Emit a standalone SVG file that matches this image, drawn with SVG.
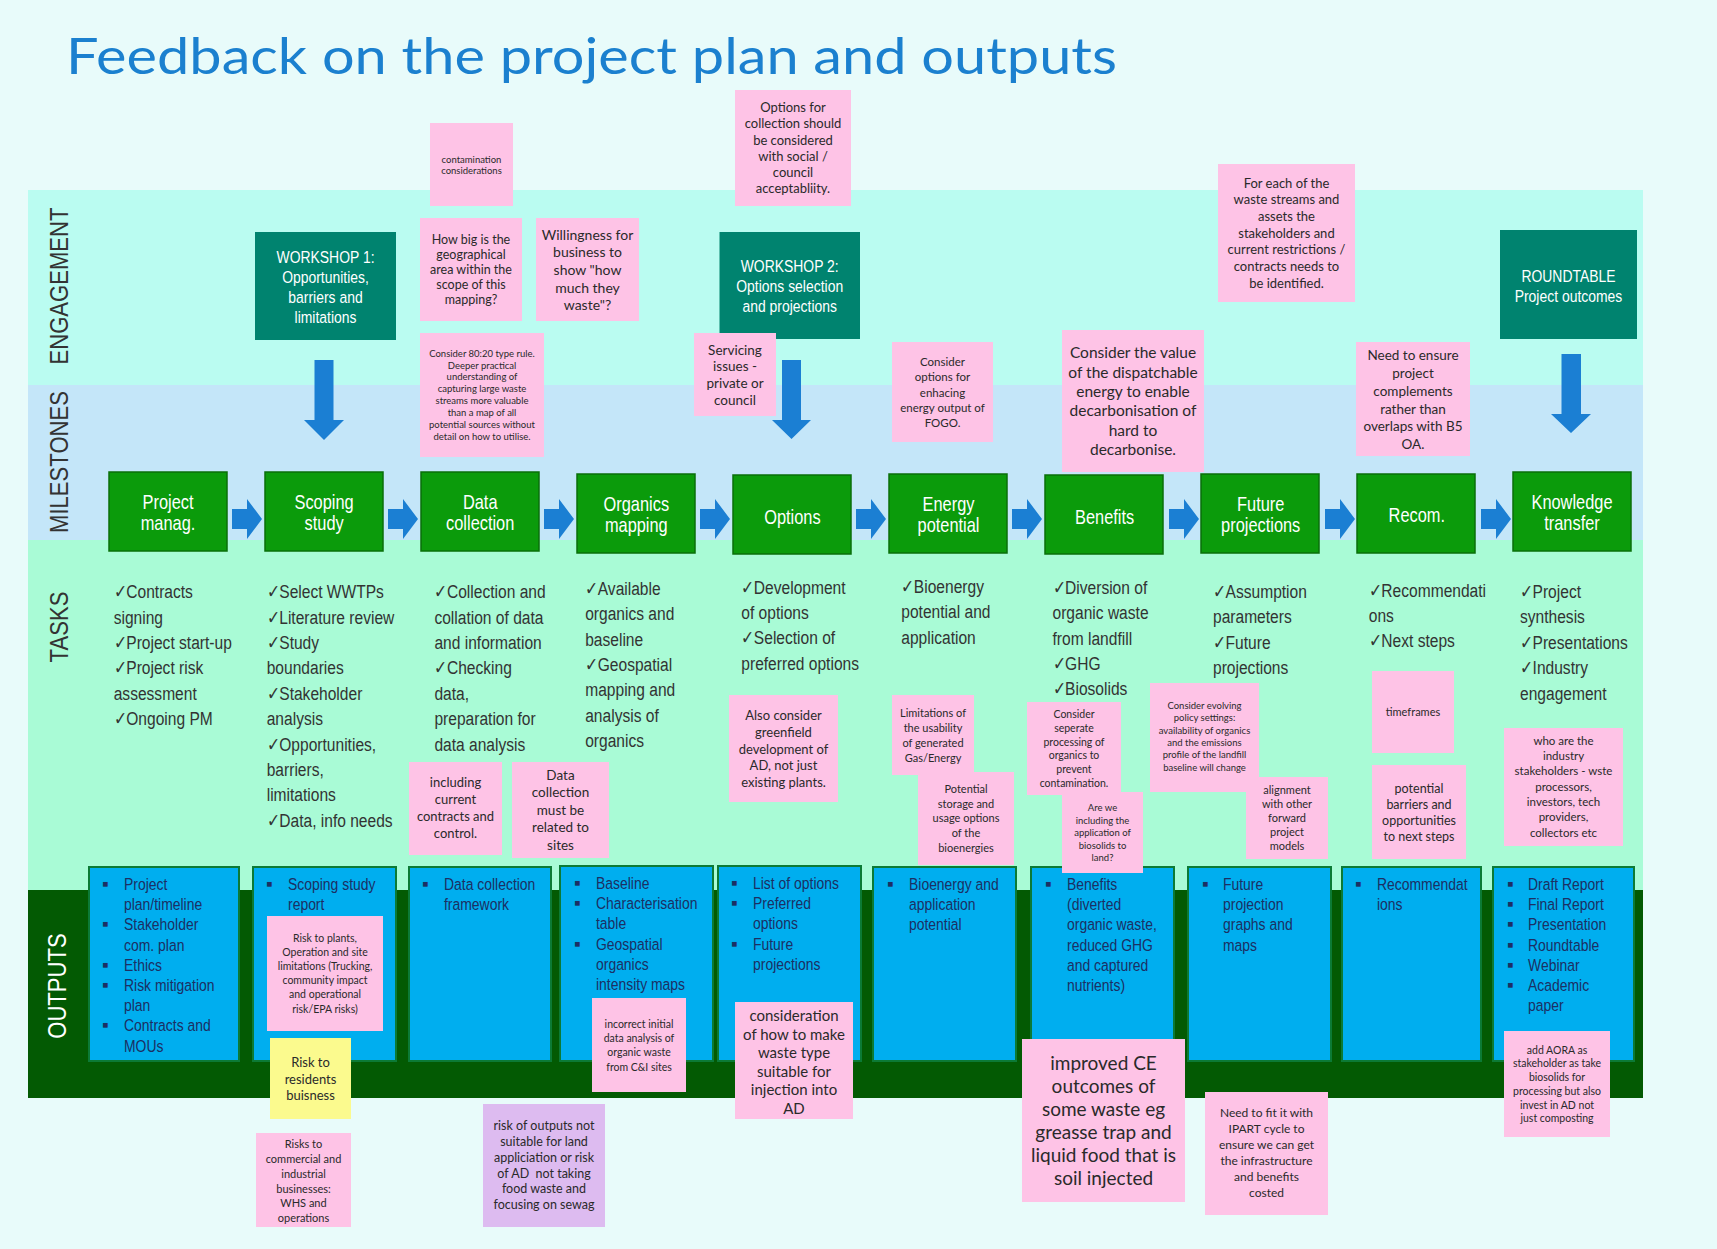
<svg xmlns="http://www.w3.org/2000/svg" width="1717" height="1249" viewBox="0 0 1717 1249">
<style>
.st{font-family:Lato,"Liberation Sans",sans-serif;fill:#2a2a2a;text-anchor:middle}
.pink{fill:#FEC3E6}
.yel{fill:#FBFA8E}
.pur{fill:#DDBBF0}
.nar{font-family:"Liberation Sans",Arial,sans-serif}
.ms{fill:#0B9B0B;stroke:#0A6F0A;stroke-width:1.5}
.mst{fill:#fff;font-size:20px;text-anchor:middle}
.ws{fill:#00836F}
.wst{fill:#fff;font-size:17px;text-anchor:middle}
.arr{fill:#1B7FD3}
.ob{fill:#00AEEF;stroke:#0C7A35;stroke-width:2}
.ot{fill:#1C2F63;font-size:17px}
.bul{fill:#1C2F63;font-size:19px;font-family:"Liberation Sans",sans-serif}
.tt{fill:#333;font-size:19px}
.lane{font-size:26px;text-anchor:middle;fill:#333}
</style>
<rect width="1717" height="1249" fill="#E8FBFA"/>
<text x="66" y="74" font-family="Lato,'Open Sans',sans-serif" font-weight="400" font-size="50" fill="#1B80CF" textLength="1051" lengthAdjust="spacingAndGlyphs">Feedback on the project plan and outputs</text>

<g id="lanes">
<rect x="28" y="190" width="1615" height="195" fill="#BAFCF1"/>
<rect x="28" y="385" width="1615" height="155" fill="#C4E6F9"/>
<rect x="28" y="540" width="1615" height="350" fill="#A9FBD6"/>
<rect x="28" y="890" width="1615" height="208" fill="#035A03"/>
<text class="nar lane" transform="translate(68,286) rotate(-90) scale(0.85,1)">ENGAGEMENT</text>
<text class="nar lane" transform="translate(68,462) rotate(-90) scale(0.85,1)">MILESTONES</text>
<text class="nar lane" transform="translate(68,627) rotate(-90) scale(0.85,1)">TASKS</text>
<text class="nar lane" style="fill:#fff" transform="translate(66,986) rotate(-90) scale(0.85,1)">OUTPUTS</text>
</g>

<g id="connectors">
<polygon class="arr" points="232,509 247,509 247,499 262,519 247,539 247,529 232,529"/>
<polygon class="arr" points="388,509 403,509 403,499 418,519 403,539 403,529 388,529"/>
<polygon class="arr" points="544,509 559,509 559,499 574,519 559,539 559,529 544,529"/>
<polygon class="arr" points="700,509 715,509 715,499 730,519 715,539 715,529 700,529"/>
<polygon class="arr" points="856,509 871,509 871,499 886,519 871,539 871,529 856,529"/>
<polygon class="arr" points="1012,509 1027,509 1027,499 1042,519 1027,539 1027,529 1012,529"/>
<polygon class="arr" points="1169,509 1184,509 1184,499 1199,519 1184,539 1184,529 1169,529"/>
<polygon class="arr" points="1325,509 1340,509 1340,499 1355,519 1340,539 1340,529 1325,529"/>
<polygon class="arr" points="1481,509 1496,509 1496,499 1511,519 1496,539 1496,529 1481,529"/>
<polygon class="arr" points="314.5,360 333.5,360 333.5,420 344,420 324,440 304,420 314.5,420"/>
<polygon class="arr" points="782,360 801,360 801,420 811,420 791.5,439 772,420 782,420"/>
<polygon class="arr" points="1561.5,354 1581,354 1581,414 1591,414 1571,433 1551,414 1561.5,414"/>
</g>

<g id="workshop1"><rect class="ws" x="255" y="232" width="141" height="108"/>
<text class="nar wst" transform="translate(325.5,262.7) scale(0.82,1)"><tspan x="0">WORKSHOP 1:</tspan><tspan x="0" dy="20.1">Opportunities,</tspan><tspan x="0" dy="20.1">barriers and</tspan><tspan x="0" dy="20.1">limitations</tspan></text></g>
<g id="workshop2"><rect class="ws" x="719.5" y="232" width="140.5" height="107"/>
<text class="nar wst" transform="translate(789.7,271.7) scale(0.82,1)"><tspan x="0">WORKSHOP 2:</tspan><tspan x="0" dy="20.1">Options selection</tspan><tspan x="0" dy="20.1">and projections</tspan></text></g>
<g id="roundtable"><rect class="ws" x="1500" y="230" width="137" height="109"/>
<text class="nar wst" transform="translate(1568.5,282) scale(0.82,1)"><tspan x="0">ROUNDTABLE</tspan><tspan x="0" dy="20.1">Project outcomes</tspan></text></g>

<g id="m1"><rect class="ms" x="109" y="472" width="118" height="79"/>
<text class="nar mst" transform="translate(168,508.5) scale(0.82,1)"><tspan x="0">Project</tspan><tspan x="0" dy="22">manag.</tspan></text></g>
<g id="m2"><rect class="ms" x="265" y="472" width="118" height="79"/>
<text class="nar mst" transform="translate(324.1,508.5) scale(0.82,1)"><tspan x="0">Scoping</tspan><tspan x="0" dy="22">study</tspan></text></g>
<g id="m3"><rect class="ms" x="421" y="472" width="118" height="79"/>
<text class="nar mst" transform="translate(480.2,508.5) scale(0.82,1)"><tspan x="0">Data</tspan><tspan x="0" dy="22">collection</tspan></text></g>
<g id="m4"><rect class="ms" x="577" y="474" width="118" height="79"/>
<text class="nar mst" transform="translate(636.3,510.5) scale(0.82,1)"><tspan x="0">Organics</tspan><tspan x="0" dy="22">mapping</tspan></text></g>
<g id="m5"><rect class="ms" x="733" y="475" width="118" height="79"/>
<text class="nar mst" transform="translate(792.4,523.5) scale(0.82,1)">Options</text></g>
<g id="m6"><rect class="ms" x="889" y="474" width="118" height="79"/>
<text class="nar mst" transform="translate(948.5,510.5) scale(0.82,1)"><tspan x="0">Energy</tspan><tspan x="0" dy="22">potential</tspan></text></g>
<g id="m7"><rect class="ms" x="1045" y="475" width="118" height="79"/>
<text class="nar mst" transform="translate(1104.6,523.5) scale(0.82,1)">Benefits</text></g>
<g id="m8"><rect class="ms" x="1201" y="474" width="118" height="79"/>
<text class="nar mst" transform="translate(1260.7,510.5) scale(0.82,1)"><tspan x="0">Future</tspan><tspan x="0" dy="22">projections</tspan></text></g>
<g id="m9"><rect class="ms" x="1357" y="474" width="118" height="79"/>
<text class="nar mst" transform="translate(1416.8,522) scale(0.82,1)">Recom.</text></g>
<g id="m10"><rect class="ms" x="1513" y="472" width="118" height="79"/>
<text class="nar mst" transform="translate(1572,508.5) scale(0.82,1)"><tspan x="0">Knowledge</tspan><tspan x="0" dy="22">transfer</tspan></text></g>

<g id="tasks">
<text class="nar tt" transform="translate(113.7,598.2) scale(0.82,1)"><tspan x="0">✓Contracts</tspan><tspan x="0" dy="25.4">signing</tspan><tspan x="0" dy="25.4">✓Project start-up</tspan><tspan x="0" dy="25.4">✓Project risk</tspan><tspan x="0" dy="25.4">assessment</tspan><tspan x="0" dy="25.4">✓Ongoing PM</tspan></text>
<text class="nar tt" transform="translate(266.7,598.2) scale(0.82,1)"><tspan x="0">✓Select WWTPs</tspan><tspan x="0" dy="25.4">✓Literature review</tspan><tspan x="0" dy="25.4">✓Study</tspan><tspan x="0" dy="25.4">boundaries</tspan><tspan x="0" dy="25.4">✓Stakeholder</tspan><tspan x="0" dy="25.4">analysis</tspan><tspan x="0" dy="25.4">✓Opportunities,</tspan><tspan x="0" dy="25.4">barriers,</tspan><tspan x="0" dy="25.4">limitations</tspan><tspan x="0" dy="25.4">✓Data, info needs</tspan></text>
<text class="nar tt" transform="translate(434.4,598.2) scale(0.82,1)"><tspan x="0">✓Collection and</tspan><tspan x="0" dy="25.4">collation of data</tspan><tspan x="0" dy="25.4">and information</tspan><tspan x="0" dy="25.4">✓Checking</tspan><tspan x="0" dy="25.4">data,</tspan><tspan x="0" dy="25.4">preparation for</tspan><tspan x="0" dy="25.4">data analysis</tspan></text>
<text class="nar tt" transform="translate(585.2,594.8) scale(0.82,1)"><tspan x="0">✓Available</tspan><tspan x="0" dy="25.4">organics and</tspan><tspan x="0" dy="25.4">baseline</tspan><tspan x="0" dy="25.4">✓Geospatial</tspan><tspan x="0" dy="25.4">mapping and</tspan><tspan x="0" dy="25.4">analysis of</tspan><tspan x="0" dy="25.4">organics</tspan></text>
<text class="nar tt" transform="translate(741.3,593.5) scale(0.82,1)"><tspan x="0">✓Development</tspan><tspan x="0" dy="25.4">of options</tspan><tspan x="0" dy="25.4">✓Selection of</tspan><tspan x="0" dy="25.4">preferred options</tspan></text>
<text class="nar tt" transform="translate(901.3,593) scale(0.82,1)"><tspan x="0">✓Bioenergy</tspan><tspan x="0" dy="25.4">potential and</tspan><tspan x="0" dy="25.4">application</tspan></text>
<text class="nar tt" transform="translate(1052.5,593.8) scale(0.82,1)"><tspan x="0">✓Diversion of</tspan><tspan x="0" dy="25.4">organic waste</tspan><tspan x="0" dy="25.4">from landfill</tspan><tspan x="0" dy="25.4">✓GHG</tspan><tspan x="0" dy="25.4">✓Biosolids</tspan></text>
<text class="nar tt" transform="translate(1213,598) scale(0.82,1)"><tspan x="0">✓Assumption</tspan><tspan x="0" dy="25.4">parameters</tspan><tspan x="0" dy="25.4">✓Future</tspan><tspan x="0" dy="25.4">projections</tspan></text>
<text class="nar tt" transform="translate(1368.8,596.5) scale(0.82,1)"><tspan x="0">✓Recommendati</tspan><tspan x="0" dy="25.4">ons</tspan><tspan x="0" dy="25.4">✓Next steps</tspan></text>
<text class="nar tt" transform="translate(1520,598) scale(0.82,1)"><tspan x="0">✓Project</tspan><tspan x="0" dy="25.4">synthesis</tspan><tspan x="0" dy="25.4">✓Presentations</tspan><tspan x="0" dy="25.4">✓Industry</tspan><tspan x="0" dy="25.4">engagement</tspan></text>
</g>

<g id="o1"><rect class="ob" x="89" y="867" width="150" height="194"/>
<text class="bul"><tspan x="102" y="890">▪</tspan><tspan x="102" y="930.4">▪</tspan><tspan x="102" y="970.8">▪</tspan><tspan x="102" y="991">▪</tspan><tspan x="102" y="1031.4">▪</tspan></text>
<text class="nar ot" transform="translate(124,890) scale(0.82,1)"><tspan x="0">Project</tspan><tspan x="0" dy="20.2">plan/timeline</tspan><tspan x="0" dy="20.2">Stakeholder</tspan><tspan x="0" dy="20.2">com. plan</tspan><tspan x="0" dy="20.2">Ethics</tspan><tspan x="0" dy="20.2">Risk mitigation</tspan><tspan x="0" dy="20.2">plan</tspan><tspan x="0" dy="20.2">Contracts and</tspan><tspan x="0" dy="20.2">MOUs</tspan></text></g>
<g id="o2"><rect class="ob" x="253" y="867" width="143" height="194"/>
<text class="bul" x="266" y="890">▪</text>
<text class="nar ot" transform="translate(288,890) scale(0.82,1)"><tspan x="0">Scoping study</tspan><tspan x="0" dy="20.2">report</tspan></text></g>
<g id="o3"><rect class="ob" x="409" y="867" width="142" height="194"/>
<text class="bul" x="422" y="890">▪</text>
<text class="nar ot" transform="translate(444,890) scale(0.82,1)"><tspan x="0">Data collection</tspan><tspan x="0" dy="20.2">framework</tspan></text></g>
<g id="o4"><rect class="ob" x="560" y="866" width="153" height="195"/>
<text class="bul"><tspan x="574" y="889">▪</tspan><tspan x="574" y="909.2">▪</tspan><tspan x="574" y="949.6">▪</tspan></text>
<text class="nar ot" transform="translate(596,889) scale(0.82,1)"><tspan x="0">Baseline</tspan><tspan x="0" dy="20.2">Characterisation</tspan><tspan x="0" dy="20.2">table</tspan><tspan x="0" dy="20.2">Geospatial</tspan><tspan x="0" dy="20.2">organics</tspan><tspan x="0" dy="20.2">intensity maps</tspan></text></g>
<g id="o5"><rect class="ob" x="718" y="866" width="143" height="195"/>
<text class="bul"><tspan x="731" y="889">▪</tspan><tspan x="731" y="909.2">▪</tspan><tspan x="731" y="949.6">▪</tspan></text>
<text class="nar ot" transform="translate(753,889) scale(0.82,1)"><tspan x="0">List of options</tspan><tspan x="0" dy="20.2">Preferred</tspan><tspan x="0" dy="20.2">options</tspan><tspan x="0" dy="20.2">Future</tspan><tspan x="0" dy="20.2">projections</tspan></text></g>
<g id="o6"><rect class="ob" x="873" y="867" width="143" height="194"/>
<text class="bul" x="887" y="890">▪</text>
<text class="nar ot" transform="translate(909,890) scale(0.82,1)"><tspan x="0">Bioenergy and</tspan><tspan x="0" dy="20.2">application</tspan><tspan x="0" dy="20.2">potential</tspan></text></g>
<g id="o7"><rect class="ob" x="1031" y="867" width="143" height="194"/>
<text class="bul" x="1045" y="890">▪</text>
<text class="nar ot" transform="translate(1067,890) scale(0.82,1)"><tspan x="0">Benefits</tspan><tspan x="0" dy="20.2">(diverted</tspan><tspan x="0" dy="20.2">organic waste,</tspan><tspan x="0" dy="20.2">reduced GHG</tspan><tspan x="0" dy="20.2">and captured</tspan><tspan x="0" dy="20.2">nutrients)</tspan></text></g>
<g id="o8"><rect class="ob" x="1188" y="867" width="143" height="194"/>
<text class="bul" x="1202" y="890">▪</text>
<text class="nar ot" transform="translate(1223,890) scale(0.82,1)"><tspan x="0">Future</tspan><tspan x="0" dy="20.2">projection</tspan><tspan x="0" dy="20.2">graphs and</tspan><tspan x="0" dy="20.2">maps</tspan></text></g>
<g id="o9"><rect class="ob" x="1342" y="867" width="139" height="194"/>
<text class="bul" x="1355" y="890">▪</text>
<text class="nar ot" transform="translate(1377,890) scale(0.82,1)"><tspan x="0">Recommendat</tspan><tspan x="0" dy="20.2">ions</tspan></text></g>
<g id="o10"><rect class="ob" x="1493" y="867" width="141" height="194"/>
<text class="bul"><tspan x="1507" y="890">▪</tspan><tspan x="1507" y="910.2">▪</tspan><tspan x="1507" y="930.4">▪</tspan><tspan x="1507" y="950.6">▪</tspan><tspan x="1507" y="970.8">▪</tspan><tspan x="1507" y="991">▪</tspan></text>
<text class="nar ot" transform="translate(1528,890) scale(0.82,1)"><tspan x="0">Draft Report</tspan><tspan x="0" dy="20.2">Final Report</tspan><tspan x="0" dy="20.2">Presentation</tspan><tspan x="0" dy="20.2">Roundtable</tspan><tspan x="0" dy="20.2">Webinar</tspan><tspan x="0" dy="20.2">Academic</tspan><tspan x="0" dy="20.2">paper</tspan></text></g>

<g id="s1"><rect class="pink" x="430" y="123" width="83" height="83"/><text class="st" font-size="9.5" y="162.5"><tspan x="471.5">contamination</tspan><tspan x="471.5" dy="11.7">considerations</tspan></text></g>
<g id="s2"><rect class="pink" x="420" y="218" width="102" height="103"/><text class="st" font-size="12.5" y="244.4"><tspan x="471">How big is the</tspan><tspan x="471" dy="15">geographical</tspan><tspan x="471" dy="15">area within the</tspan><tspan x="471" dy="15">scope of this</tspan><tspan x="471" dy="15">mapping?</tspan></text></g>
<g id="s3"><rect class="pink" x="536" y="218" width="103" height="103"/><text class="st" font-size="14" y="239.7"><tspan x="587.5">Willingness for</tspan><tspan x="587.5" dy="17.6">business to</tspan><tspan x="587.5" dy="17.6">show "how</tspan><tspan x="587.5" dy="17.6">much they</tspan><tspan x="587.5" dy="17.6">waste"?</tspan></text></g>
<g id="s4"><rect class="pink" x="420" y="333" width="124" height="124"/><text class="st" font-size="9.5" y="356.6"><tspan x="482">Consider 80:20 type rule.</tspan><tspan x="482" dy="11.9">Deeper practical</tspan><tspan x="482" dy="11.9">understanding of</tspan><tspan x="482" dy="11.9">capturing large waste</tspan><tspan x="482" dy="11.9">streams more valuable</tspan><tspan x="482" dy="11.9">than a map of all</tspan><tspan x="482" dy="11.9">potential sources without</tspan><tspan x="482" dy="11.9">detail on how to utilise.</tspan></text></g>
<g id="s5"><rect class="pink" x="735" y="90" width="116" height="116"/><text class="st" font-size="13" y="112.2"><tspan x="793">Options for</tspan><tspan x="793" dy="16.2">collection should</tspan><tspan x="793" dy="16.2">be considered</tspan><tspan x="793" dy="16.2">with social /</tspan><tspan x="793" dy="16.2">council</tspan><tspan x="793" dy="16.2">acceptabliity.</tspan></text></g>
<g id="s6"><rect class="pink" x="694" y="333" width="82" height="83"/><text class="st" font-size="13.5" y="354.7"><tspan x="735">Servicing</tspan><tspan x="735" dy="16.7">issues -</tspan><tspan x="735" dy="16.7">private or</tspan><tspan x="735" dy="16.7">council</tspan></text></g>
<g id="s7"><rect class="pink" x="892" y="342" width="101" height="100"/><text class="st" font-size="11.5" y="365.7"><tspan x="942.5">Consider</tspan><tspan x="942.5" dy="15.4">options for</tspan><tspan x="942.5" dy="15.4">enhacing</tspan><tspan x="942.5" dy="15.4">energy output of</tspan><tspan x="942.5" dy="15.4">FOGO.</tspan></text></g>
<g id="s8"><rect class="pink" x="1062" y="330" width="142" height="142"/><text class="st" font-size="15.5" y="358.3"><tspan x="1133">Consider the value</tspan><tspan x="1133" dy="19.3">of the dispatchable</tspan><tspan x="1133" dy="19.3">energy to enable</tspan><tspan x="1133" dy="19.3">decarbonisation of</tspan><tspan x="1133" dy="19.3">hard to</tspan><tspan x="1133" dy="19.3">decarbonise.</tspan></text></g>
<g id="s9"><rect class="pink" x="1218" y="164" width="137" height="138"/><text class="st" font-size="13" y="187.8"><tspan x="1286.5">For each of the</tspan><tspan x="1286.5" dy="16.67">waste streams and</tspan><tspan x="1286.5" dy="16.67">assets the</tspan><tspan x="1286.5" dy="16.67">stakeholders and</tspan><tspan x="1286.5" dy="16.67">current restrictions /</tspan><tspan x="1286.5" dy="16.67">contracts needs to</tspan><tspan x="1286.5" dy="16.67">be identified.</tspan></text></g>
<g id="s10"><rect class="pink" x="1356" y="342" width="114" height="114"/><text class="st" font-size="13.5" y="360.4"><tspan x="1413">Need to ensure</tspan><tspan x="1413" dy="17.7">project</tspan><tspan x="1413" dy="17.7">complements</tspan><tspan x="1413" dy="17.7">rather than</tspan><tspan x="1413" dy="17.7">overlaps with B5</tspan><tspan x="1413" dy="17.7">OA.</tspan></text></g>
<g id="s11"><rect class="pink" x="409" y="762" width="93" height="93"/><text class="st" font-size="13" y="787.2"><tspan x="455.5">including</tspan><tspan x="455.5" dy="16.9">current</tspan><tspan x="455.5" dy="16.9">contracts and</tspan><tspan x="455.5" dy="16.9">control.</tspan></text></g>
<g id="s12"><rect class="pink" x="512" y="762" width="97" height="96"/><text class="st" font-size="13.5" y="779.7"><tspan x="560.5">Data</tspan><tspan x="560.5" dy="17.5">collection</tspan><tspan x="560.5" dy="17.5">must be</tspan><tspan x="560.5" dy="17.5">related to</tspan><tspan x="560.5" dy="17.5">sites</tspan></text></g>
<g id="s13"><rect class="pink" x="729" y="695" width="109" height="107"/><text class="st" font-size="13" y="720.2"><tspan x="783.5">Also consider</tspan><tspan x="783.5" dy="16.65">greenfield</tspan><tspan x="783.5" dy="16.65">development of</tspan><tspan x="783.5" dy="16.65">AD, not just</tspan><tspan x="783.5" dy="16.65">existing plants.</tspan></text></g>
<g id="s14"><rect class="pink" x="892" y="695" width="82" height="80"/><text class="st" font-size="11" y="717.1"><tspan x="933">Limitations of</tspan><tspan x="933" dy="14.8">the usability</tspan><tspan x="933" dy="14.8">of generated</tspan><tspan x="933" dy="14.8">Gas/Energy</tspan></text></g>
<g id="s15"><rect class="pink" x="918" y="772" width="96" height="93"/><text class="st" font-size="11" y="793.1"><tspan x="966">Potential</tspan><tspan x="966" dy="14.6">storage and</tspan><tspan x="966" dy="14.6">usage options</tspan><tspan x="966" dy="14.6">of the</tspan><tspan x="966" dy="14.6">bioenergies</tspan></text></g>
<g id="s16"><rect class="pink" x="1027" y="702" width="94" height="93"/><text class="st" font-size="10.5" y="717.7"><tspan x="1074">Consider</tspan><tspan x="1074" dy="13.9">seperate</tspan><tspan x="1074" dy="13.9">processing of</tspan><tspan x="1074" dy="13.9">organics to</tspan><tspan x="1074" dy="13.9">prevent</tspan><tspan x="1074" dy="13.9">contamination.</tspan></text></g>
<g id="s17"><rect class="pink" x="1062" y="792" width="81" height="81"/><text class="st" font-size="9.5" y="811"><tspan x="1102.5">Are we</tspan><tspan x="1102.5" dy="12.5">including the</tspan><tspan x="1102.5" dy="12.5">application of</tspan><tspan x="1102.5" dy="12.5">biosolids to</tspan><tspan x="1102.5" dy="12.5">land?</tspan></text></g>
<g id="s18"><rect class="pink" x="1150" y="683" width="109" height="109"/><text class="st" font-size="9.5" y="709"><tspan x="1204.5">Consider evolving</tspan><tspan x="1204.5" dy="12.3">policy settings:</tspan><tspan x="1204.5" dy="12.3">availability of organics</tspan><tspan x="1204.5" dy="12.3">and the emissions</tspan><tspan x="1204.5" dy="12.3">profile of the landfill</tspan><tspan x="1204.5" dy="12.3">baseline will change</tspan></text></g>
<g id="s19"><rect class="pink" x="1246" y="777" width="82" height="82"/><text class="st" font-size="11" y="793.8"><tspan x="1287">alignment</tspan><tspan x="1287" dy="14">with other</tspan><tspan x="1287" dy="14">forward</tspan><tspan x="1287" dy="14">project</tspan><tspan x="1287" dy="14">models</tspan></text></g>
<g id="s20"><rect class="pink" x="1372" y="671" width="82" height="82"/><text class="st" font-size="11" x="1413" y="715.5">timeframes</text></g>
<g id="s21"><rect class="pink" x="1372" y="765" width="94" height="94"/><text class="st" font-size="12.5" y="792.7"><tspan x="1419">potential</tspan><tspan x="1419" dy="16.1">barriers and</tspan><tspan x="1419" dy="16.1">opportunities</tspan><tspan x="1419" dy="16.1">to next steps</tspan></text></g>
<g id="s22"><rect class="pink" x="1504" y="728" width="119" height="118"/><text class="st" font-size="11.5" y="744.7"><tspan x="1563.5">who are the</tspan><tspan x="1563.5" dy="15.3">industry</tspan><tspan x="1563.5" dy="15.3">stakeholders - wste</tspan><tspan x="1563.5" dy="15.3">processors,</tspan><tspan x="1563.5" dy="15.3">investors, tech</tspan><tspan x="1563.5" dy="15.3">providers,</tspan><tspan x="1563.5" dy="15.3">collectors etc</tspan></text></g>
<g id="s23"><rect class="pink" x="267" y="916" width="116" height="115"/><text class="st" font-size="10.5" y="942"><tspan x="325">Risk to plants,</tspan><tspan x="325" dy="14.1">Operation and site</tspan><tspan x="325" dy="14.1">limitations (Trucking,</tspan><tspan x="325" dy="14.1">community impact</tspan><tspan x="325" dy="14.1">and operational</tspan><tspan x="325" dy="14.1">risk/EPA risks)</tspan></text></g>
<g id="s24"><rect class="yel" x="270" y="1038" width="81" height="81"/><text class="st" font-size="13" y="1066.8"><tspan x="310.5">Risk to</tspan><tspan x="310.5" dy="16.7">residents</tspan><tspan x="310.5" dy="16.7">buisness</tspan></text></g>
<g id="s25"><rect class="pink" x="256" y="1133" width="95" height="94"/><text class="st" font-size="11" y="1148.1"><tspan x="303.5">Risks to</tspan><tspan x="303.5" dy="14.8">commercial and</tspan><tspan x="303.5" dy="14.8">industrial</tspan><tspan x="303.5" dy="14.8">businesses:</tspan><tspan x="303.5" dy="14.8">WHS and</tspan><tspan x="303.5" dy="14.8">operations</tspan></text></g>
<g id="s26"><rect class="pur" x="483" y="1104" width="122" height="123"/><text class="st" font-size="12.5" y="1130.4"><tspan x="544">risk of outputs not</tspan><tspan x="544" dy="15.7">suitable for land</tspan><tspan x="544" dy="15.7">appliciation or risk</tspan><tspan x="544" dy="15.7">of AD&#160; not taking</tspan><tspan x="544" dy="15.7">food waste and</tspan><tspan x="544" dy="15.7">focusing on sewag</tspan></text></g>
<g id="s27"><rect class="pink" x="592" y="998" width="94" height="94"/><text class="st" font-size="10.5" y="1027.7"><tspan x="639">incorrect initial</tspan><tspan x="639" dy="14.3">data analysis of</tspan><tspan x="639" dy="14.3">organic waste</tspan><tspan x="639" dy="14.3">from C&amp;I sites</tspan></text></g>
<g id="s28"><rect class="pink" x="735" y="1002" width="118" height="117"/><text class="st" font-size="15" y="1020.9"><tspan x="794">consideration</tspan><tspan x="794" dy="18.6">of how to make</tspan><tspan x="794" dy="18.6">waste type</tspan><tspan x="794" dy="18.6">suitable for</tspan><tspan x="794" dy="18.6">injection into</tspan><tspan x="794" dy="18.6">AD</tspan></text></g>
<g id="s29"><rect class="pink" x="1022" y="1039" width="163" height="163"/><text class="st" font-size="19" y="1070"><tspan x="1103.5">improved CE</tspan><tspan x="1103.5" dy="22.9">outcomes of</tspan><tspan x="1103.5" dy="22.9">some waste eg</tspan><tspan x="1103.5" dy="22.9">greasse trap and</tspan><tspan x="1103.5" dy="22.9">liquid food that is</tspan><tspan x="1103.5" dy="22.9">soil injected</tspan></text></g>
<g id="s30"><rect class="pink" x="1205" y="1092" width="123" height="123"/><text class="st" font-size="12" y="1116.9"><tspan x="1266.5">Need to fit it with</tspan><tspan x="1266.5" dy="16.1">IPART cycle to</tspan><tspan x="1266.5" dy="16.1">ensure we can get</tspan><tspan x="1266.5" dy="16.1">the infrastructure</tspan><tspan x="1266.5" dy="16.1">and benefits</tspan><tspan x="1266.5" dy="16.1">costed</tspan></text></g>
<g id="s31"><rect class="pink" x="1504" y="1031" width="106" height="106"/><text class="st" font-size="10.5" y="1053.7"><tspan x="1557">add AORA as</tspan><tspan x="1557" dy="13.7">stakeholder as take</tspan><tspan x="1557" dy="13.7">biosolids for</tspan><tspan x="1557" dy="13.7">processing but also</tspan><tspan x="1557" dy="13.7">invest in AD not</tspan><tspan x="1557" dy="13.7">just composting</tspan></text></g>
</svg>
